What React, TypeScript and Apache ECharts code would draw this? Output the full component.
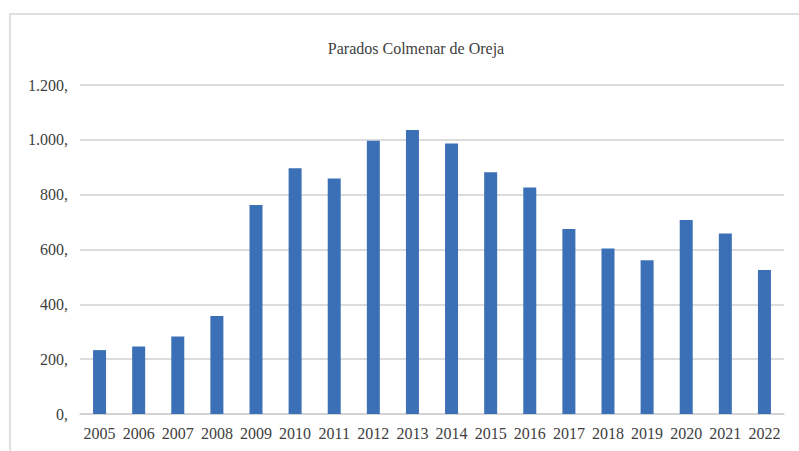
import React, { useEffect, useRef } from "react";
import * as echarts from "echarts";

const years = ["2005","2006","2007","2008","2009","2010","2011","2012","2013","2014","2015","2016","2017","2018","2019","2020","2021","2022"];
const parados = [233, 246, 283, 357, 762, 896, 859, 997, 1036, 987, 882, 826, 675, 604, 561, 708, 658, 525];
const yTicks = [0, 200, 400, 600, 800, 1000, 1200];
const title = "Parados Colmenar de Oreja";

function fmt(v: number): string {
  if (v >= 1000) {
    return Math.floor(v / 1000) + "." + String(v % 1000).padStart(3, "0") + ",";
  }
  return v + ",";
}

export default function App() {
  const ref = useRef<HTMLDivElement>(null);
  useEffect(() => {
    if (!ref.current) return;
    const chart = echarts.init(ref.current, null, { renderer: "svg" });
    chart.setOption({
      animation: false,
      backgroundColor: "#ffffff",
      title: {
        text: title,
        left: 411,
        top: 35,
        textAlign: "center",
        textStyle: { fontFamily: "Liberation Serif", fontSize: 16, fontWeight: "normal", color: "#404040" },
      },
      graphic: [
        {
          type: "rect",
          shape: { x: 10, y: 14, width: 820, height: 460 },
          style: { fill: "none", stroke: "#d6d6d6", lineWidth: 1.5 },
          silent: true,
        },
      ],
      grid: { left: 80, right: 15, top: 85, bottom: 37, containLabel: false },
      xAxis: {
        type: "category",
        data: years,
        axisLine: { lineStyle: { color: "#d0d0d0", width: 1.5 } },
        axisTick: { show: false },
        axisLabel: { fontFamily: "Liberation Serif", fontSize: 16, color: "#404040", margin: 11, interval: 0 },
      },
      yAxis: {
        type: "value",
        min: yTicks[0],
        max: yTicks[yTicks.length - 1],
        interval: 200,
        axisLine: { show: false },
        axisTick: { show: false },
        splitLine: { lineStyle: { color: "#d0d0d0", width: 1.5 } },
        axisLabel: { fontFamily: "Liberation Serif", fontSize: 16, color: "#404040", margin: 12, formatter: (v: number) => fmt(v) },
      },
      series: [
        {
          type: "bar",
          data: parados,
          barWidth: 13,
          itemStyle: { color: "#3b70b7" },
        },
      ],
    });
    return () => chart.dispose();
  }, []);
  return <div ref={ref} style={{ position: "fixed", left: 0, top: 0, width: 799, height: 451 }} />;
}
